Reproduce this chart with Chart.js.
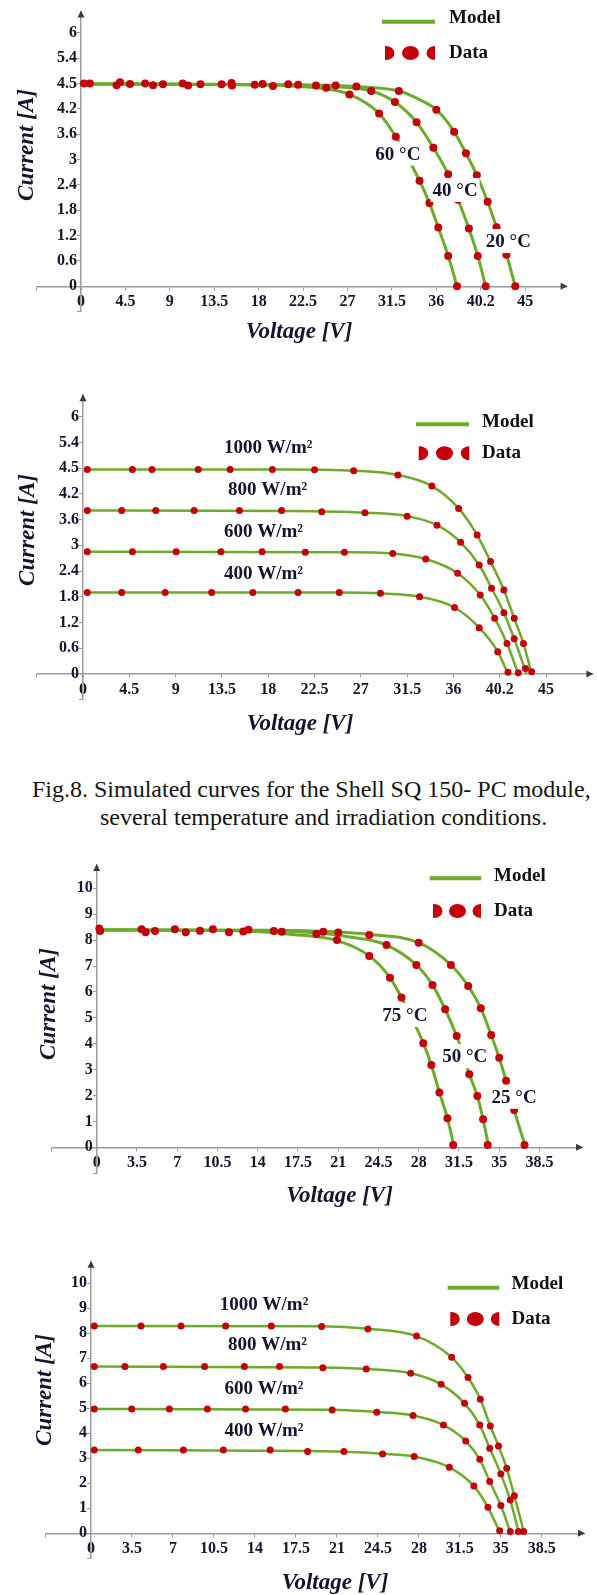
<!DOCTYPE html>
<html>
<head>
<meta charset="utf-8">
<title>I-V curves</title>
<script src="https://cdn.jsdelivr.net/npm/chart.js@4.4.1/dist/chart.umd.min.js"></script>
<style>
  body { margin: 0; background: #fff; }
  #page { position: relative; width: 597px; height: 1595px; overflow: hidden; background: #fff; }
  canvas { position: absolute; left: 0; }
  .caption {
    position: absolute;
    font: 24px "Liberation Serif", "Times New Roman", serif;
    line-height: 24px;
    color: #141414;
    white-space: nowrap;
  }
</style>
</head>
<body>
<div id="page">
  <canvas id="sqTemp" width="597" height="360" style="top:0px"></canvas>
  <canvas id="sqIrr" width="597" height="400" style="top:360px"></canvas>
  <div class="caption" style="left:32px; top:777px">Fig.8. Simulated curves for the Shell SQ 150- PC module,</div>
  <div class="caption" style="left:100px; top:805px">several temperature and irradiation conditions.</div>
  <canvas id="mbTemp" width="597" height="380" style="top:840px"></canvas>
  <canvas id="mbIrr" width="597" height="375" style="top:1220px"></canvas>
</div>
<script>
// ---- axis ticks (Shell SQ 150-PC panels) ----
const sqVoltTicks = [-4.5, 0, 4.5, 9, 13.5, 18, 22.5, 27, 31.5, 36, 40.5, 45];
const sqVoltLabels = ['', '0', '4.5', '9', '13.5', '18', '22.5', '27', '31.5', '36', '40.2', '45'];
const sqCurrTicks = [-0.6, 0, 0.6, 1.2, 1.8, 2.4, 3, 3.6, 4.2, 4.8, 5.4, 6];
const sqCurrLabels = ['', '0', '0.6', '1.2', '1.8', '2.4', '3', '3.6', '4.2', '4.5', '5.4', '6'];

// ---- axis ticks (second module panels) ----
const mbVoltTicks = [-3.9, 0, 3.5, 7, 10.5, 14, 17.5, 21, 24.5, 28, 31.5, 35, 38.5];
const mbVoltLabels = ['', '0', '3.5', '7', '10.5', '14', '17.5', '21', '24.5', '28', '31.5', '35', '38.5'];
const mbCurrTicks = [-1, 0, 1, 2, 3, 4, 5, 6, 7, 8, 9, 10];
const mbCurrLabels = ['', '0', '1', '2', '3', '4', '5', '6', '7', '8', '9', '10'];

// ---- Shell SQ 150-PC, temperature sweep: [voltage V, current A] ----
const sqTempNames = ['60 °C', '40 °C', '20 °C'];
const sqModel60 = [[0.2, 4.79], [15, 4.77], [20, 4.75], [24, 4.69], [27.2, 4.54], [30.2, 4.09], [31.9, 3.54], [33.2, 3.0], [34.3, 2.5], [35.3, 1.97], [36.2, 1.39], [37.2, 0.72], [38.1, 0]];
const sqModel40 = [[0.2, 4.79], [20, 4.77], [26, 4.72], [29.4, 4.62], [31.8, 4.36], [34.0, 3.88], [35.7, 3.28], [37.2, 2.65], [38.2, 2.05], [39.3, 1.37], [40.2, 0.72], [41.0, 0]];
const sqModel20 = [[0.2, 4.79], [25, 4.76], [29, 4.71], [32.2, 4.62], [34.2, 4.43], [36.0, 4.18], [37.8, 3.66], [39.0, 3.15], [40.1, 2.63], [41.2, 2.0], [42.1, 1.40], [43.1, 0.75], [44.0, 0]];
const sqData60 = [[0.3, 4.80], [3.6, 4.76], [6.5, 4.80], [10.3, 4.80], [14.25, 4.78], [17.6, 4.77], [21, 4.78], [24.85, 4.70], [27.2, 4.54], [30.2, 4.09], [31.9, 3.54], [34.3, 2.5], [35.3, 1.97], [36.2, 1.39], [37.2, 0.72], [38.1, 0]];
const sqData40 = [[0.9, 4.80], [3.95, 4.83], [7.3, 4.76], [10.85, 4.75], [15.25, 4.81], [18.4, 4.79], [22, 4.77], [25.8, 4.75], [29.4, 4.62], [31.8, 4.36], [34.0, 3.88], [35.7, 3.28], [37.2, 2.65], [38.2, 2.05], [39.3, 1.37], [40.2, 0.72], [41.0, 0]];
const sqData20 = [[4.96, 4.79], [8.3, 4.78], [12.1, 4.78], [15.3, 4.75], [19.45, 4.74], [23.8, 4.75], [27.9, 4.73], [32.2, 4.62], [36.0, 4.18], [37.8, 3.66], [39.0, 3.15], [40.1, 2.63], [41.2, 2.0], [42.1, 1.40], [43.1, 0.75], [44.0, 0]];

// ---- Shell SQ 150-PC, irradiance sweep ----
const sqIrrNames = ['1000 W/m²', '800 W/m²', '600 W/m²', '400 W/m²'];
const sqModel1000 = [[0.2, 4.77], [20, 4.77], [26.3, 4.74], [30.6, 4.64], [33.9, 4.38], [36.5, 3.86], [38.3, 3.24], [39.6, 2.62], [40.9, 1.96], [41.9, 1.30], [42.8, 0.71], [43.6, 0]];
const sqModel800 = [[0.2, 3.81], [20, 3.80], [27.4, 3.76], [31.5, 3.68], [34.4, 3.47], [36.7, 3.07], [38.5, 2.54], [39.7, 2.0], [40.9, 1.43], [41.9, 0.82], [43.1, 0]];
const sqModel600 = [[0.2, 2.85], [25.4, 2.84], [30.1, 2.81], [33.3, 2.68], [36.4, 2.35], [38.6, 1.84], [40.0, 1.30], [41.2, 0.71], [42.3, 0]];
const sqModel400 = [[0.2, 1.90], [24.9, 1.90], [28.9, 1.88], [32.7, 1.80], [36.1, 1.55], [38.5, 1.08], [40.3, 0.52], [41.3, 0]];
const sqData1000 = [[0.42, 4.77], [4.8, 4.77], [6.7, 4.77], [11.2, 4.77], [14.3, 4.77], [18.4, 4.77], [22.5, 4.76], [26.3, 4.74], [30.6, 4.64], [33.9, 4.38], [36.5, 3.86], [38.3, 3.24], [39.6, 2.62], [40.9, 1.96], [41.9, 1.30], [42.8, 0.71], [43.6, 0.05]];
const sqData800 = [[0.42, 3.81], [3.76, 3.81], [7.07, 3.81], [10.8, 3.81], [15.2, 3.81], [19.3, 3.81], [23.2, 3.78], [27.4, 3.76], [31.5, 3.68], [34.4, 3.47], [36.7, 3.07], [38.5, 2.54], [39.7, 2.0], [40.9, 1.43], [41.9, 0.82], [43.0, 0.13]];
const sqData600 = [[0.42, 2.85], [4.8, 2.85], [9.05, 2.85], [13.4, 2.85], [17.4, 2.85], [21.6, 2.84], [25.4, 2.84], [30.1, 2.81], [33.3, 2.68], [36.4, 2.35], [38.6, 1.84], [40.0, 1.30], [41.2, 0.71], [42.3, 0.03]];
const sqData400 = [[0.42, 1.90], [3.76, 1.90], [7.98, 1.90], [12.5, 1.90], [16.5, 1.90], [20.9, 1.90], [24.9, 1.90], [28.9, 1.88], [32.7, 1.80], [36.1, 1.55], [38.5, 1.08], [40.3, 0.52], [41.3, 0.04]];

// ---- second module, temperature sweep ----
const mbTempNames = ['75 °C', '50 °C', '25 °C'];
const mbModel75 = [[0.2, 8.39], [12, 8.36], [17, 8.22], [20.9, 7.98], [23.7, 7.39], [25.5, 6.55], [26.5, 5.78], [27.5, 4.9], [28.4, 4.02], [29.1, 3.18], [29.8, 2.12], [30.5, 1.12], [31.1, 0]];
const mbModel50 = [[0.2, 8.39], [14, 8.37], [19, 8.28], [22, 8.12], [25.2, 7.81], [27.8, 7.04], [29.2, 6.27], [30.3, 5.33], [31.3, 4.30], [31.9, 3.55], [32.4, 2.82], [33.1, 1.98], [33.6, 1.08], [34.1, 0]];
const mbModel25 = [[0.2, 8.39], [15, 8.38], [19.7, 8.34], [23.7, 8.22], [28.0, 7.90], [30.8, 7.04], [32.3, 6.23], [33.4, 5.37], [34.3, 4.34], [35.0, 3.46], [35.6, 2.57], [36.3, 1.44], [37.3, 0]];
const mbData75 = [[0.23, 8.45], [5.07, 8.35], [8.98, 8.36], [12.75, 8.33], [16.1, 8.32], [19.1, 8.24], [20.9, 8.0], [23.7, 7.39], [25.5, 6.55], [26.5, 5.78], [28.4, 4.02], [29.1, 3.18], [29.8, 2.12], [30.5, 1.12], [31.0, 0.09]];
const mbData50 = [[0.3, 8.35], [3.9, 8.42], [6.8, 8.42], [10.1, 8.42], [13.2, 8.40], [21.0, 8.29], [25.2, 7.81], [27.8, 7.04], [29.2, 6.27], [30.3, 5.33], [31.3, 4.30], [32.4, 2.82], [33.1, 1.98], [33.6, 1.08], [34.0, 0.09]];
const mbData25 = [[4.26, 8.30], [7.74, 8.30], [11.5, 8.30], [15.4, 8.35], [19.7, 8.32], [23.7, 8.20], [28.0, 7.90], [30.8, 7.04], [32.3, 6.23], [33.4, 5.37], [34.3, 4.34], [35.0, 3.46], [35.6, 2.57], [36.3, 1.44], [37.2, 0.09]];

// ---- second module, irradiance sweep ----
const mbIrrNames = ['1000 W/m²', '800 W/m²', '600 W/m²', '400 W/m²'];
const mbModel1000 = [[0.2, 8.29], [19.7, 8.28], [23.65, 8.18], [27.8, 7.89], [30.8, 7.04], [32.2, 6.23], [33.25, 5.36], [34.1, 4.29], [34.8, 3.49], [35.5, 2.6], [36.15, 1.5], [37.0, 0]];
const mbModel800 = [[0.2, 6.67], [19.8, 6.63], [23.5, 6.57], [27.3, 6.4], [29.9, 5.96], [31.9, 5.2], [33.2, 4.33], [34.05, 3.4], [35.0, 2.37], [35.8, 1.33], [36.55, 0]];
const mbModel600 = [[0.2, 4.97], [20.6, 4.94], [24.4, 4.85], [27.5, 4.71], [30.1, 4.33], [32.0, 3.69], [33.2, 2.96], [34.05, 2.07], [35.0, 1.11], [35.85, 0]];
const mbModel400 = [[0.2, 3.33], [18.5, 3.29], [21.6, 3.26], [24.9, 3.18], [27.6, 3.07], [30.6, 2.64], [32.7, 1.89], [33.9, 1.04], [34.95, 0]];
const mbData1000 = [[0.28, 8.29], [4.27, 8.29], [7.69, 8.29], [11.5, 8.29], [15.4, 8.29], [19.7, 8.27], [23.65, 8.17], [27.8, 7.89], [30.8, 7.04], [32.2, 6.23], [33.25, 5.36], [34.1, 4.29], [34.8, 3.49], [35.5, 2.6], [36.15, 1.5], [36.95, 0.07]];
const mbData800 = [[0.28, 6.67], [2.9, 6.67], [6.18, 6.67], [9.7, 6.67], [13.1, 6.67], [16.1, 6.67], [19.8, 6.62], [23.5, 6.57], [27.3, 6.4], [29.9, 5.96], [31.9, 5.2], [33.2, 4.33], [34.05, 3.4], [35.0, 2.37], [35.8, 1.33], [36.5, 0.07]];
const mbData600 = [[0.28, 4.97], [3.48, 4.97], [6.69, 4.97], [9.94, 4.97], [13.2, 4.97], [16.6, 4.97], [20.6, 4.93], [24.4, 4.84], [27.5, 4.71], [30.1, 4.33], [32.0, 3.69], [33.2, 2.96], [34.05, 2.07], [35.0, 1.11], [35.8, 0.07]];
const mbData400 = [[0.28, 3.33], [4.04, 3.33], [7.89, 3.33], [11.3, 3.33], [15.3, 3.33], [18.5, 3.27], [21.6, 3.27], [24.9, 3.17], [27.6, 3.07], [30.6, 2.64], [32.7, 1.89], [33.9, 1.04], [34.9, 0.1]];

const GREEN = '#6dab2a';
const RED = '#c4000b';
const AXIS = '#9c9c9c';
const INK = '#14142c';
const SERIF = '"Liberation Serif", "Times New Roman", serif';

const toXY = pts => pts.map(p => ({ x: p[0], y: p[1] }));

// draws arrows, axis titles, legend and the curve names
function decorPlugin(p) {
  return {
    id: 'decor',
    afterDatasetsDraw(chart) {
      const ctx = chart.ctx;
      const xs = chart.scales.x, ys = chart.scales.y;
      ctx.save();
      ctx.font = 'bold 19px ' + SERIF;
      ctx.textBaseline = 'middle';
      p.names.forEach((name, i) => {
        const px = xs.getPixelForValue(p.nameAt[i][0]);
        const py = ys.getPixelForValue(p.nameAt[i][1]);
        const w = ctx.measureText(name).width;
        const left = p.nameAlign === 'center' ? px - w / 2 : px;
        ctx.fillStyle = '#fff';
        ctx.fillRect(left - 2, py - 12, w + 4, 24);
        ctx.fillStyle = INK;
        ctx.textAlign = 'left';
        ctx.fillText(name, left, py + 1);
      });
      ctx.restore();
    },
    afterDraw(chart) {
      const ctx = chart.ctx, area = chart.chartArea;
      const xs = chart.scales.x, ys = chart.scales.y;
      const x0 = xs.getPixelForValue(0), y0 = ys.getPixelForValue(0);
      ctx.save();

      // arrow heads on the axes
      ctx.fillStyle = '#3a3a3a';
      ctx.beginPath();
      ctx.moveTo(area.right + 1, y0);
      ctx.lineTo(area.right - 6, y0 - 3.5);
      ctx.lineTo(area.right - 6, y0 + 3.5);
      ctx.fill();
      ctx.beginPath();
      ctx.moveTo(x0, area.top - 1);
      ctx.lineTo(x0 - 3.5, area.top + 6);
      ctx.lineTo(x0 + 3.5, area.top + 6);
      ctx.fill();

      // axis titles
      ctx.fillStyle = INK;
      ctx.font = 'italic bold 23px ' + SERIF;
      ctx.textAlign = 'center';
      ctx.textBaseline = 'middle';
      ctx.fillText('Voltage [V]', p.xTitle[0], p.xTitle[1]);
      ctx.translate(p.yTitle[0], p.yTitle[1]);
      ctx.rotate(-Math.PI / 2);
      ctx.fillText('Current [A]', 0, 0);
      ctx.setTransform(1, 0, 0, 1, 0, 0);

      // legend
      const lg = p.legend;
      ctx.strokeStyle = GREEN;
      ctx.lineWidth = 4;
      ctx.beginPath();
      ctx.moveTo(lg.lineX, lg.lineY);
      ctx.lineTo(lg.lineX + lg.lineW, lg.lineY);
      ctx.stroke();
      ctx.fillStyle = '#111';
      ctx.font = 'bold 19px ' + SERIF;
      ctx.textAlign = 'left';
      ctx.fillText('Model', lg.textX, lg.modelY);
      ctx.fillText('Data', lg.textX, lg.dataY);

      ctx.save();
      ctx.beginPath();
      ctx.rect(lg.symX, lg.dataY - 10, lg.symW, 20);
      ctx.clip();
      ctx.fillStyle = RED;
      [1, lg.symW / 2 + 0.5, lg.symW].forEach(dx => {
        ctx.beginPath();
        ctx.ellipse(lg.symX + dx, lg.dataY, 8.5, 7, 0, 0, Math.PI * 2);
        ctx.fill();
      });
      ctx.restore();

      ctx.restore();
    }
  };
}

function buildPanel(p) {
  const datasets = [];
  p.models.forEach(m => datasets.push({
    data: toXY(m), showLine: true, borderColor: GREEN, borderWidth: p.lineWidth,
    pointRadius: 0, cubicInterpolationMode: 'monotone', order: 2
  }));
  p.data.forEach(d => datasets.push({
    data: toXY(d), showLine: false, pointRadius: p.dotRadius,
    pointBackgroundColor: RED, pointBorderWidth: 0, order: 1
  }));

  const tickFont = { family: SERIF, size: 16, weight: 'bold' };

  new Chart(document.getElementById(p.id), {
    type: 'scatter',
    data: { datasets },
    options: {
      responsive: false,
      animation: false,
      events: [],
      layout: { padding: p.pad },
      plugins: { legend: { display: false }, tooltip: { enabled: false } },
      scales: {
        x: {
          type: 'linear', min: p.xMin, max: p.xMax, position: { y: 0 },
          afterBuildTicks: s => { s.ticks = p.xTicks.map(v => ({ value: v })); },
          ticks: { callback: (v, i) => p.xLabels[i], font: tickFont, color: INK, padding: 3, autoSkip: false, maxRotation: 0 },
          grid: { drawOnChartArea: false, tickLength: 3, color: AXIS },
          border: { color: AXIS, width: 1.5 }
        },
        y: {
          type: 'linear', min: p.yMin, max: p.yMax, position: { x: 0 },
          afterBuildTicks: s => { s.ticks = p.yTicks.map(v => ({ value: v })); },
          // the label sits flush with an axis placed at x = 0, so keep a space after it
          ticks: { callback: (v, i) => p.yLabels[i] ? p.yLabels[i] + ' ' : '', font: tickFont, color: INK, padding: 2, autoSkip: false },
          grid: { drawOnChartArea: false, tickLength: 3, color: AXIS },
          border: { color: AXIS, width: 1.5 }
        }
      }
    },
    plugins: [decorPlugin(p)]
  });
}

buildPanel({
  id: 'sqTemp', xMin: -4.5, xMax: 49.2, yMin: -0.6, yMax: 6.5,
  pad: { left: 36.6, right: 30.4, top: 7.8, bottom: 48.3 },
  xTicks: sqVoltTicks, xLabels: sqVoltLabels, yTicks: sqCurrTicks, yLabels: sqCurrLabels,
  models: [sqModel60, sqModel40, sqModel20], data: [sqData60, sqData40, sqData20],
  names: sqTempNames, nameAt: [[32.1, 3.14], [37.9, 2.28], [43.3, 1.07]], nameAlign: 'center',
  lineWidth: 3, dotRadius: 4,
  yTitle: [27.5, 145], xTitle: [299, 332],
  legend: { lineX: 382, lineW: 53, lineY: 21.7, textX: 449, modelY: 18, symX: 385, symW: 50, dataY: 53 }
});

buildPanel({
  id: 'sqIrr', xMin: -4.5, xMax: 49.5, yMin: -0.6, yMax: 6.5,
  pad: { left: 36.7, right: 4.6, top: 35.2, bottom: 60.3 },
  xTicks: sqVoltTicks, xLabels: sqVoltLabels, yTicks: sqCurrTicks, yLabels: sqCurrLabels,
  models: [sqModel1000, sqModel800, sqModel600, sqModel400], data: [sqData1000, sqData800, sqData600, sqData400],
  names: sqIrrNames, nameAt: [[13.7, 5.28], [14.1, 4.31], [13.7, 3.32], [13.7, 2.35]], nameAlign: 'left',
  lineWidth: 2.5, dotRadius: 3.5,
  yTitle: [28.3, 170], xTitle: [300, 364],
  legend: { lineX: 416, lineW: 53, lineY: 64.3, textX: 482, modelY: 61.7, symX: 418.7, symW: 50.6, dataY: 93.3 }
});

buildPanel({
  id: 'mbTemp', xMin: -3.9, xMax: 42.2, yMin: -1, yMax: 10.9,
  pad: { left: 51.85, right: 15, top: 25, bottom: 46.8 },
  xTicks: mbVoltTicks, xLabels: mbVoltLabels, yTicks: mbCurrTicks, yLabels: mbCurrLabels,
  models: [mbModel75, mbModel50, mbModel25], data: [mbData75, mbData50, mbData25],
  names: mbTempNames, nameAt: [[26.8, 5.11], [32.0, 3.52], [36.3, 1.95]], nameAlign: 'center',
  lineWidth: 3, dotRadius: 4,
  yTitle: [49, 164], xTitle: [339.5, 356],
  legend: { lineX: 429.7, lineW: 51.6, lineY: 38.3, textX: 494, modelY: 35.7, symX: 433, symW: 48, dataY: 71 }
});

buildPanel({
  id: 'mbIrr', xMin: -3.9, xMax: 42.1, yMin: -1, yMax: 10.86,
  pad: { left: 45.3, right: 13, top: 41.8, bottom: 36.7 },
  xTicks: mbVoltTicks, xLabels: mbVoltLabels, yTicks: mbCurrTicks, yLabels: mbCurrLabels,
  models: [mbModel1000, mbModel800, mbModel600, mbModel400], data: [mbData1000, mbData800, mbData600, mbData400],
  names: mbIrrNames, nameAt: [[11.0, 9.16], [11.7, 7.56], [11.4, 5.8], [11.4, 4.13]], nameAlign: 'left',
  lineWidth: 2.5, dotRadius: 3.5,
  yTitle: [45, 170], xTitle: [335, 363],
  legend: { lineX: 447.7, lineW: 51.6, lineY: 67.7, textX: 511.5, modelY: 64, symX: 450.3, symW: 49, dataY: 99 }
});
</script>
</body>
</html>
